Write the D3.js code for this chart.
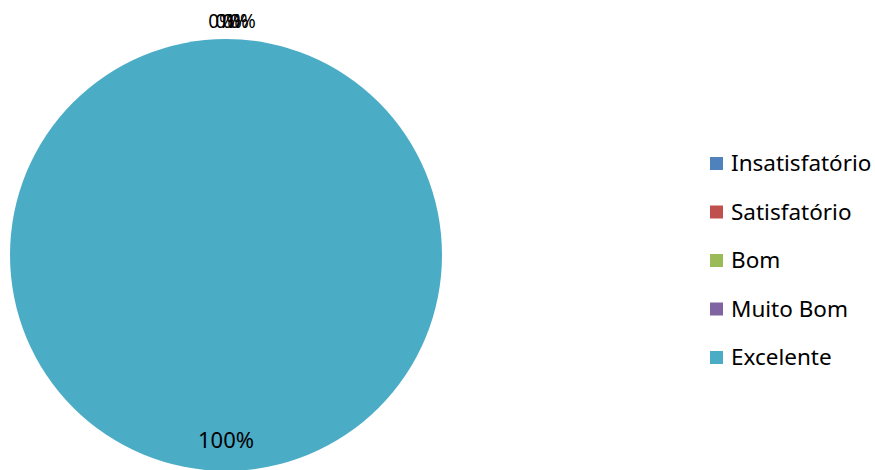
<!DOCTYPE html>
<html>
<head>
<meta charset="utf-8">
<script src="https://cdn.jsdelivr.net/npm/d3@7"></script>
<style>
  body { margin: 0; background: #fff; }
  text { font-family: "Noto Sans", sans-serif; fill: #000; }
</style>
</head>
<body>
<div id="vis"></div>
<script>
const width = 875;
const height = 470;

// data
const categories = ['Insatisfatório', 'Satisfatório', 'Bom', 'Muito Bom', 'Excelente'];
const values = [0, 0, 0, 0, 100];
const colors = ['#4F81BD', '#C0504D', '#9BBB59', '#8064A2', '#4BACC6'];

const data = categories.map((c, i) => ({category: c, value: values[i]}));
const total = d3.sum(values);

const cx = 226, cy = 255, radius = 216;

const svg = d3.select('#vis')
    .append('svg')
    .attr('width', width)
    .attr('height', height);

const g = svg.append('g')
    .attr('transform', `translate(${cx},${cy})`);

const color = d3.scaleOrdinal()
    .domain(categories)
    .range(colors);

const pie = d3.pie()
    .value(d => d.value)
    .sort(null);

const arc = d3.arc()
    .innerRadius(0)
    .outerRadius(radius);

const arcs = pie(data);

g.selectAll('path')
    .data(arcs)
    .enter()
    .append('path')
    .attr('d', arc)
    .style('fill', d => color(d.data.category));

// labels: big slice inside, zero slices stacked just above the top
const labelArc = d3.arc().innerRadius(radius * 0.86).outerRadius(radius * 0.86);
const outerArc = d3.arc().innerRadius(radius + 11).outerRadius(radius + 11);
let zeroIdx = 0;

g.selectAll('text.lbl')
    .data(arcs)
    .enter()
    .append('text')
    .attr('class', 'lbl')
    .attr('text-anchor', 'middle')
    .style('font-size', d => d.data.value === 0 ? '19px' : '22px')
    .attr('transform', d => {
        if (d.data.value === 0) {
            const p = outerArc.centroid(d);
            const shift = (zeroIdx++ - 1.5) * 7 + 6;
            return `translate(${p[0] + shift},${p[1]})`;
        }
        const p = labelArc.centroid(d);
        return `translate(${p[0]},${p[1] + 7})`;
    })
    .text(d => Math.round(d.data.value / total * 100) + '%');

// legend
const legend = svg.append('g')
    .attr('transform', 'translate(710,163)');

const rows = legend.selectAll('g')
    .data(categories)
    .enter()
    .append('g')
    .attr('transform', (d, i) => `translate(0,${i * 48.5})`);

rows.append('rect')
    .attr('x', 0)
    .attr('y', -6)
    .attr('width', 13)
    .attr('height', 13)
    .style('fill', d => color(d));

rows.append('text')
    .attr('x', 21)
    .attr('y', 8)
    .style('font-size', '22.5px')
    .text(d => d);
</script>
</body>
</html>
